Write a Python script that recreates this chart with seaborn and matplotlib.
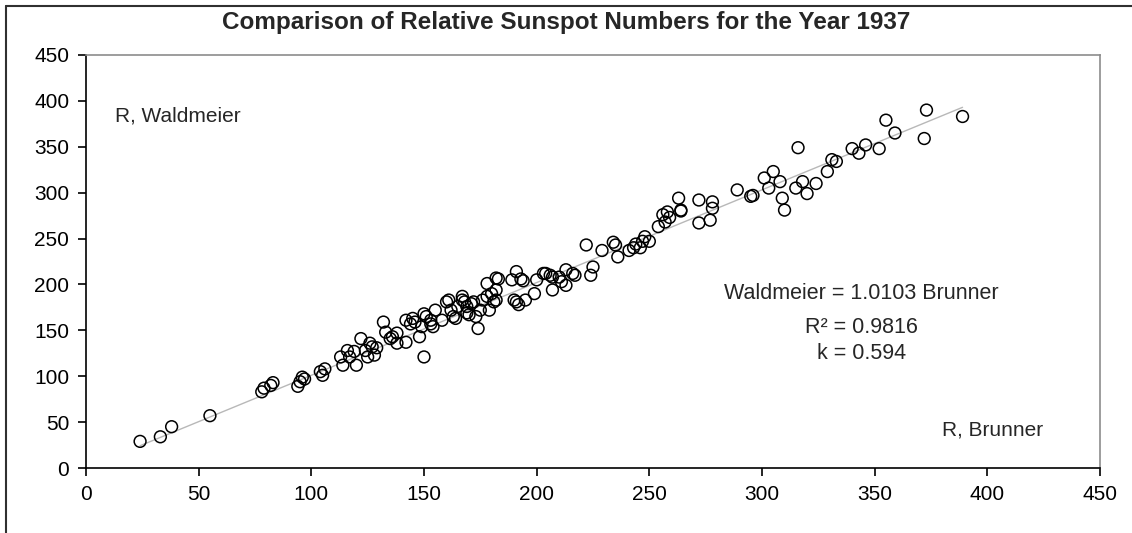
import numpy as np
import pandas as pd
import matplotlib.pyplot as plt
import seaborn as sns
from matplotlib.lines import Line2D

# daily relative sunspot numbers 1937
brunner = [24, 33, 38, 55,
           78, 79, 82, 83, 94, 95, 96, 97, 104, 105, 106,
           113, 114, 116, 117, 119, 120, 122, 124, 125, 126, 128, 127, 129,
           132, 133, 135, 136, 138, 138, 142, 142, 144, 145, 146, 148, 149, 150, 150, 151, 153, 153, 155, 154, 158,
           160, 161, 162, 163, 164, 165, 167, 167, 168, 169, 169, 170, 171, 173, 172, 174, 175, 176, 178, 178, 179,
           180, 181, 182, 182, 183, 182,
           189, 190, 191, 191, 193, 194, 195, 192, 199, 200, 203, 204, 206, 207, 207, 210, 211, 213, 213, 216, 217,
           222, 224, 225, 229, 234, 235, 236, 241, 243, 246, 244, 247, 248, 250,
           254, 256, 258, 257, 259, 263, 264, 264, 272, 272, 277, 278, 278,
           289, 295, 296, 301, 303, 305, 308, 309, 310, 316, 315, 318, 320, 324, 329, 331, 333,
           340, 343, 346, 352, 355, 359, 373, 372, 389]
waldmeier = [29, 34, 45, 57,
             83, 87, 90, 93, 89, 94, 99, 97, 105, 101, 108,
             121, 112, 128, 121, 127, 112, 141, 128, 121, 136, 123, 132, 131,
             159, 148, 141, 143, 147, 136, 137, 161, 157, 163, 159, 143, 154, 121, 168, 165, 161, 157, 172, 154, 161,
             181, 183, 172, 165, 163, 176, 187, 183, 181, 169, 176, 167, 179, 165, 181, 152, 172, 183, 187, 201, 172,
             190, 181, 207, 194, 206, 183,
             205, 183, 214, 181, 206, 204, 183, 178, 190, 205, 212, 212, 210, 194, 208, 208, 203, 216, 199, 212, 210,
             243, 210, 219, 237, 246, 243, 230, 237, 240, 240, 244, 247, 252, 247,
             263, 276, 279, 268, 273, 294, 281, 280, 292, 267, 270, 290, 283,
             303, 296, 297, 316, 305, 323, 312, 294, 281, 349, 305, 312, 299, 310, 323, 336, 334,
             348, 343, 352, 348, 379, 365, 390, 359, 383]
slope = 1.0103
r_squared = 0.9816
k_factor = 0.594

df = pd.DataFrame({'Brunner': brunner, 'Waldmeier': waldmeier})

sns.set_style('white')
plt.rcParams['font.family'] = ['Liberation Sans', 'DejaVu Sans']

fig = plt.figure(figsize=(11.32, 5.33), dpi=100)
ax = fig.add_axes([86 / 1132, 65 / 533, 1014 / 1132, 413 / 533])

# trend line through the origin
xs = np.array([df['Brunner'].min(), df['Brunner'].max()])
ax.plot(xs, slope * xs, color='#b8b8b8', lw=1, zorder=1)

sns.scatterplot(data=df, x='Brunner', y='Waldmeier', marker='o', s=72,
                facecolor='none', edgecolor='black', linewidth=1.1, ax=ax, zorder=2)

ax.set_xlim(0, 450)
ax.set_ylim(0, 450)
ax.set_xticks(range(0, 451, 50))
ax.set_yticks(range(0, 451, 50))
ax.set_xlabel('')
ax.set_ylabel('')
ax.tick_params(bottom=True, left=True, direction='out', length=6, width=1.2,
               colors='black', labelsize=15, pad=6)

for side in ['left', 'bottom']:
    ax.spines[side].set_color('black')
    ax.spines[side].set_linewidth(1.2)
for side in ['top', 'right']:
    ax.spines[side].set_color('#8c8c8c')
    ax.spines[side].set_linewidth(1.2)

ax.text(13, 384, 'R, Waldmeier', fontsize=15, ha='left', va='center')
ax.text(380, 41, 'R, Brunner', fontsize=15, ha='left', va='center')
ax.text(344, 190, f'Waldmeier = {slope} Brunner', fontsize=15.5, ha='center', va='center')
ax.text(344, 153, f'R² = {r_squared}', fontsize=15.5, ha='center', va='center')
ax.text(344, 125, f'k = {k_factor}', fontsize=15.5, ha='center', va='center')

fig.text(0.5, 1 - 22 / 533, 'Comparison of Relative Sunspot Numbers for the Year 1937',
         ha='center', va='center', fontsize=17.5, fontweight='bold')

# outer chart frame (left and top edges visible)
fig.add_artist(Line2D([6 / 1132, 6 / 1132], [0, 1 - 6 / 533], color='#303030', lw=1.5))
fig.add_artist(Line2D([6 / 1132, 1], [1 - 6 / 533, 1 - 6 / 533], color='#303030', lw=1.5))

fig.savefig('out.png', dpi=100)
